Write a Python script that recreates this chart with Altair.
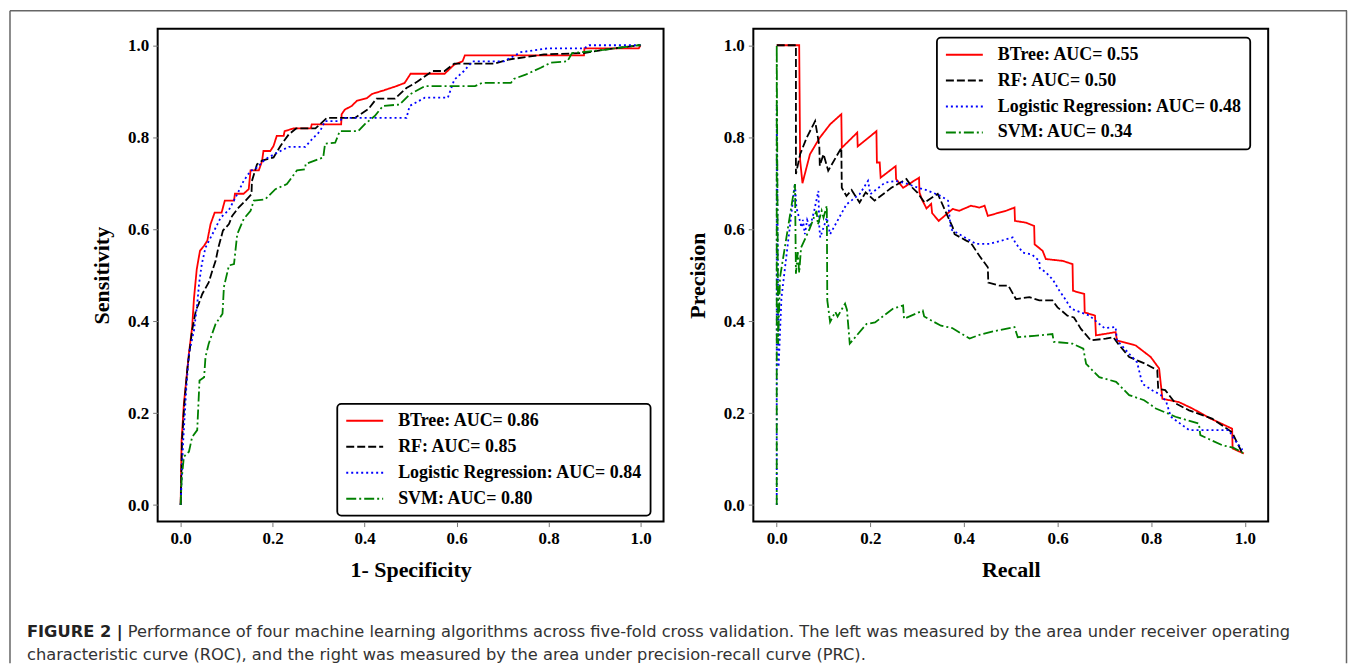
import altair as alt
import pandas as pd

MODELS = ["BTree", "RF", "Logistic Regression", "SVM"]
ROC_AUC = ["0.86", "0.85", "0.84", "0.80"]
PRC_AUC = ["0.55", "0.50", "0.48", "0.34"]
COLORS = ["#ff0000", "#000000", "#0000ff", "#008000"]
DASHES = [[1, 0], [8, 3], [2, 3], [10, 3, 2, 3]]
TICKS = [0.0, 0.2, 0.4, 0.6, 0.8, 1.0]

CAPTION_BOLD = "FIGURE 2 |"
CAPTION_1 = ("Performance of four machine learning algorithms across five-fold cross validation. "
             "The left was measured by the area under receiver operating")
CAPTION_2 = ("characteristic curve (ROC), and the right was measured by the area under "
             "precision-recall curve (PRC).")

# ---------------- ROC curves (1 - specificity, sensitivity) ----------------
roc_btree_x = [0, 0.002, 0.007, 0.01, 0.018, 0.025, 0.029, 0.035, 0.042, 0.051, 0.058, 0.065, 0.074, 0.089,
               0.096, 0.116, 0.118, 0.137, 0.148, 0.152, 0.170, 0.177, 0.18, 0.195, 0.202, 0.209, 0.224,
               0.226, 0.245, 0.283, 0.285, 0.349, 0.35, 0.357, 0.372, 0.383, 0.405, 0.416, 0.442, 0.469,
               0.487, 0.50, 0.574, 0.595, 0.613, 0.618, 0.877, 0.878, 0.996, 1.0]
roc_btree_y = [0, 0.14, 0.22, 0.25, 0.33, 0.387, 0.45, 0.513, 0.553, 0.564, 0.575, 0.611, 0.636, 0.636,
               0.662, 0.662, 0.677, 0.677, 0.687, 0.728, 0.728, 0.748, 0.77, 0.77, 0.781, 0.803, 0.803,
               0.813, 0.819, 0.819, 0.828, 0.828, 0.85, 0.86, 0.868, 0.879, 0.885, 0.894, 0.902, 0.911,
               0.918, 0.938, 0.938, 0.958, 0.965, 0.978, 0.978, 0.993, 0.993, 1.0]

roc_rf_x = [0, 0.003, 0.008, 0.015, 0.025, 0.033, 0.039, 0.047, 0.061, 0.069, 0.076, 0.082, 0.092, 0.105,
            0.112, 0.126, 0.141, 0.154, 0.155, 0.166, 0.177, 0.202, 0.217, 0.235, 0.251, 0.293, 0.318,
            0.379, 0.408, 0.426, 0.466, 0.491, 0.515, 0.548, 0.574, 0.595, 0.682, 0.714, 0.79, 0.877,
            0.92, 0.996, 1.0]
roc_rf_y = [0, 0.14, 0.22, 0.3, 0.38, 0.423, 0.437, 0.459, 0.484, 0.51, 0.531, 0.56, 0.597, 0.611,
            0.629, 0.647, 0.662, 0.676, 0.705, 0.741, 0.749, 0.756, 0.781, 0.806, 0.819, 0.819, 0.842,
            0.842, 0.861, 0.884, 0.884, 0.907, 0.921, 0.944, 0.944, 0.96, 0.96, 0.969, 0.98, 0.983,
            0.99, 1.0, 1.0]

roc_lr_x = [0, 0.005, 0.012, 0.018, 0.029, 0.036, 0.04, 0.046, 0.054, 0.069, 0.087, 0.105, 0.123, 0.137,
            0.152, 0.166, 0.184, 0.209, 0.235, 0.271, 0.285, 0.303, 0.314, 0.343, 0.357, 0.491, 0.498,
            0.531, 0.581, 0.595, 0.616, 0.635, 0.703, 0.74, 0.797, 0.877, 0.888, 1.0]
roc_lr_y = [0, 0.13, 0.25, 0.33, 0.38, 0.437, 0.481, 0.524, 0.56, 0.589, 0.625, 0.642, 0.676, 0.705,
            0.727, 0.734, 0.752, 0.766, 0.779, 0.779, 0.795, 0.813, 0.835, 0.835, 0.842, 0.842, 0.868,
            0.886, 0.886, 0.925, 0.944, 0.965, 0.965, 0.985, 0.993, 0.993, 1.0, 1.0]

roc_svm_x = [0, 0.002, 0.007, 0.018, 0.025, 0.036, 0.041, 0.051, 0.054, 0.061, 0.076, 0.091, 0.094, 0.105,
             0.116, 0.123, 0.137, 0.152, 0.159, 0.184, 0.206, 0.231, 0.253, 0.27, 0.272, 0.31, 0.314,
             0.336, 0.346, 0.386, 0.4, 0.422, 0.44, 0.476, 0.498, 0.531, 0.64, 0.655, 0.718, 0.725, 0.75,
             0.783, 0.805, 0.841, 0.851, 0.92, 0.996, 1.0]
roc_svm_y = [0, 0.054, 0.105, 0.116, 0.148, 0.163, 0.271, 0.278, 0.322, 0.351, 0.394, 0.416, 0.474, 0.521,
             0.524, 0.589, 0.622, 0.64, 0.662, 0.665, 0.687, 0.698, 0.728, 0.73, 0.742, 0.756, 0.786,
             0.788, 0.813, 0.813, 0.828, 0.846, 0.868, 0.871, 0.893, 0.911, 0.911, 0.918, 0.918, 0.927,
             0.936, 0.951, 0.962, 0.965, 0.983, 0.99, 1.0, 1.0]

# ---------------- PR curves (recall, precision) ----------------
prc_btree_x = [0, 0.048, 0.05, 0.055, 0.071, 0.092, 0.114, 0.138, 0.139, 0.172, 0.173, 0.213, 0.214, 0.22,
               0.222, 0.254, 0.255, 0.27, 0.304, 0.305, 0.31, 0.32, 0.33, 0.332, 0.346, 0.376, 0.39, 0.415,
               0.433, 0.444, 0.451, 0.49, 0.508, 0.509, 0.533, 0.55, 0.551, 0.568, 0.575, 0.611, 0.632,
               0.633, 0.657, 0.658, 0.68, 0.682, 0.724, 0.727, 0.767, 0.799, 0.817, 0.824, 0.859, 0.888,
               0.927, 0.973, 0.974, 0.998]
prc_btree_y = [1.0, 1.0, 0.75, 0.70, 0.763, 0.799, 0.828, 0.85, 0.777, 0.81, 0.78, 0.813, 0.745, 0.745,
               0.712, 0.737, 0.709, 0.69, 0.712, 0.68, 0.665, 0.645, 0.655, 0.635, 0.618, 0.644, 0.64, 0.651,
               0.647, 0.651, 0.629, 0.64, 0.647, 0.618, 0.614, 0.607, 0.567, 0.553, 0.535, 0.531, 0.524,
               0.466, 0.459, 0.419, 0.412, 0.369, 0.376, 0.358, 0.347, 0.322, 0.297, 0.231, 0.224, 0.21,
               0.188, 0.166, 0.123, 0.112]

prc_rf_x = [0, 0.041, 0.041, 0.05, 0.064, 0.082, 0.091, 0.092, 0.1, 0.11, 0.138, 0.139, 0.149, 0.16, 0.177,
            0.19, 0.209, 0.245, 0.277, 0.29, 0.3, 0.316, 0.344, 0.36, 0.376, 0.38, 0.405, 0.415, 0.433,
            0.451, 0.452, 0.476, 0.495, 0.511, 0.54, 0.561, 0.589, 0.6, 0.621, 0.635, 0.65, 0.671, 0.703,
            0.719, 0.73, 0.753, 0.788, 0.813, 0.815, 0.83, 0.852, 0.881, 0.93, 0.955, 0.973, 0.995]
prc_rf_y = [1.0, 1.0, 0.72, 0.763, 0.799, 0.835, 0.781, 0.738, 0.763, 0.727, 0.777, 0.69, 0.672, 0.685,
            0.658, 0.68, 0.662, 0.69, 0.709, 0.69, 0.68, 0.658, 0.677, 0.64, 0.604, 0.589, 0.575, 0.57,
            0.542, 0.517, 0.484, 0.477, 0.477, 0.448, 0.452, 0.445, 0.445, 0.43, 0.412, 0.408, 0.383,
            0.358, 0.362, 0.365, 0.35, 0.322, 0.307, 0.293, 0.253, 0.25, 0.221, 0.206, 0.188, 0.171,
            0.158, 0.112]

prc_lr_x = [0, 0, 0.004, 0.01, 0.039, 0.042, 0.049, 0.053, 0.056, 0.06, 0.065, 0.071, 0.08, 0.089, 0.091,
            0.093, 0.107, 0.114, 0.149, 0.177, 0.195, 0.2, 0.231, 0.254, 0.275, 0.302, 0.32, 0.351, 0.366,
            0.369, 0.372, 0.39, 0.426, 0.455, 0.48, 0.504, 0.51, 0.526, 0.545, 0.561, 0.562, 0.575, 0.59,
            0.604, 0.615, 0.629, 0.668, 0.689, 0.7, 0.724, 0.727, 0.753, 0.77, 0.781, 0.803, 0.82, 0.832,
            0.842, 0.881, 0.93, 0.966, 0.976, 0.995]
prc_lr_y = [0, 0.87, 0.3, 0.45, 0.70, 0.647, 0.62, 0.604, 0.62, 0.589, 0.62, 0.604, 0.64, 0.683, 0.604,
            0.582, 0.625, 0.589, 0.654, 0.676, 0.705, 0.676, 0.701, 0.705, 0.7, 0.69, 0.685, 0.672, 0.662,
            0.629, 0.6, 0.589, 0.568, 0.568, 0.575, 0.582, 0.57, 0.549, 0.545, 0.531, 0.515, 0.506, 0.49,
            0.466, 0.45, 0.427, 0.412, 0.394, 0.385, 0.387, 0.358, 0.329, 0.31, 0.264, 0.249, 0.24, 0.225,
            0.192, 0.163, 0.163, 0.163, 0.145, 0.12]

prc_svm_x = [0, 0, 0.003, 0.007, 0.039, 0.041, 0.045, 0.048, 0.052, 0.07, 0.085, 0.088, 0.096, 0.1, 0.107,
             0.108, 0.11, 0.114, 0.125, 0.13, 0.146, 0.15, 0.156, 0.192, 0.21, 0.248, 0.27, 0.272, 0.312,
             0.315, 0.351, 0.375, 0.412, 0.433, 0.46, 0.508, 0.515, 0.55, 0.589, 0.592, 0.632, 0.655,
             0.661, 0.689, 0.725, 0.753, 0.785, 0.81, 0.852, 0.902, 0.905, 0.952, 0.975, 0.998]
prc_svm_y = [0, 1.0, 0.35, 0.495, 0.698, 0.503, 0.55, 0.505, 0.56, 0.6, 0.64, 0.61, 0.64, 0.625, 0.651,
             0.445, 0.43, 0.398, 0.42, 0.41, 0.438, 0.425, 0.351, 0.394, 0.397, 0.427, 0.434, 0.405, 0.423,
             0.41, 0.39, 0.385, 0.362, 0.37, 0.377, 0.387, 0.365, 0.368, 0.372, 0.355, 0.351, 0.34,
             0.307, 0.278, 0.268, 0.239, 0.228, 0.21, 0.192, 0.177, 0.152, 0.13, 0.125, 0.112]


def build(series, aucs):
    rows = []
    labels = []
    for k, ((xs, ys), name, auc) in enumerate(zip(series, MODELS, aucs)):
        label = f"{name}: AUC= {auc}"
        labels.append(label)
        for i, (x, y) in enumerate(zip(xs, ys)):
            rows.append({"x": x, "y": y, "model": label, "k": k, "i": i})
    return pd.DataFrame(rows), labels


roc_df, roc_labels = build([(roc_btree_x, roc_btree_y), (roc_rf_x, roc_rf_y),
                            (roc_lr_x, roc_lr_y), (roc_svm_x, roc_svm_y)], ROC_AUC)
prc_df, prc_labels = build([(prc_btree_x, prc_btree_y), (prc_rf_x, prc_rf_y),
                            (prc_lr_x, prc_lr_y), (prc_svm_x, prc_svm_y)], PRC_AUC)

SERIF = "Liberation Serif"
SANS = "DejaVu Sans"
PLOT_H = 494


def legend(lx, ly):
    return alt.Legend(
        title=None, orient="none", legendX=lx, legendY=ly,
        symbolType="stroke", symbolSize=1369, symbolStrokeWidth=2, clipHeight=18,
        rowPadding=8, labelOffset=14, padding=8, labelLimit=0,
        labelFont=SERIF, labelFontWeight="bold", labelFontSize=18, labelColor="black",
        strokeColor="black", cornerRadius=4, fillColor="white",
    )


def panel(df, labels, xtitle, ytitle, width, lx, ly):
    leg = legend(lx, ly)
    return alt.Chart(df).mark_line(strokeWidth=1.8).encode(
        x=alt.X("x:Q", scale=alt.Scale(domain=[-0.05, 1.05], nice=False, zero=False),
                axis=alt.Axis(values=TICKS, format=".1f", title=xtitle, titlePadding=13)),
        y=alt.Y("y:Q", scale=alt.Scale(domain=[-0.036, 1.036], nice=False, zero=False),
                axis=alt.Axis(values=TICKS, format=".1f", title=ytitle, titlePadding=14)),
        color=alt.Color("model:N", scale=alt.Scale(domain=labels, range=COLORS), legend=leg),
        strokeDash=alt.StrokeDash("model:N", scale=alt.Scale(domain=labels, range=DASHES), legend=leg),
        order=alt.Order("i:Q"),
    ).properties(width=width, height=PLOT_H)


one = pd.DataFrame({"a": [0]})
FRAME = "#666666"
frame_top = alt.Chart(one).mark_rule(color=FRAME, strokeWidth=1.5).encode(
    x=alt.value(-148), x2=alt.value(1192), y=alt.value(-18))
frame_left = alt.Chart(one).mark_rule(color=FRAME, strokeWidth=1.5).encode(
    x=alt.value(-148), y=alt.value(-18), y2=alt.value(636))
frame_right = alt.Chart(one).mark_rule(color=FRAME, strokeWidth=1.5).encode(
    x=alt.value(1191.5), y=alt.value(-18), y2=alt.value(636))

cap_bold = alt.Chart(one).mark_text(align="left", baseline="middle", font=SANS, fontSize=16.3,
                                    fontWeight="bold", color="#222222").encode(
    x=alt.value(-131), y=alt.value(605), text=alt.value(CAPTION_BOLD))
cap_1 = alt.Chart(one).mark_text(align="left", baseline="middle", font=SANS, fontSize=16.3,
                                 color="#333333").encode(
    x=alt.value(-30), y=alt.value(605), text=alt.value(CAPTION_1))
cap_2 = alt.Chart(one).mark_text(align="left", baseline="middle", font=SANS, fontSize=16.3,
                                 color="#333333").encode(
    x=alt.value(-131), y=alt.value(628), text=alt.value(CAPTION_2))

left = alt.layer(
    panel(roc_df, roc_labels, "1- Specificity", "Sensitivity", 507, 180, 376),
    frame_top, frame_left, frame_right, cap_bold, cap_1, cap_2,
)
right = panel(prc_df, prc_labels, "Recall", "Precision", 516, 184, 9)

chart = alt.hconcat(left, right, spacing=90, bounds="flush").resolve_scale(
    color="independent", strokeDash="independent"
).resolve_legend(
    color="independent", strokeDash="independent"
).properties(
    padding=0
).configure_view(
    stroke="black", strokeWidth=2
).configure_legend(
    strokeWidth=1.8
).configure_axis(
    grid=False, domain=False,
    labelFont=SERIF, labelFontWeight="bold", labelFontSize=17, labelColor="black", labelPadding=4,
    tickColor="#777777", tickSize=5, tickWidth=1,
    titleFont=SERIF, titleFontWeight="bold", titleFontSize=22, titleColor="black",
)

chart.save("out.html", embed_options={"renderer": "svg", "actions": False})
